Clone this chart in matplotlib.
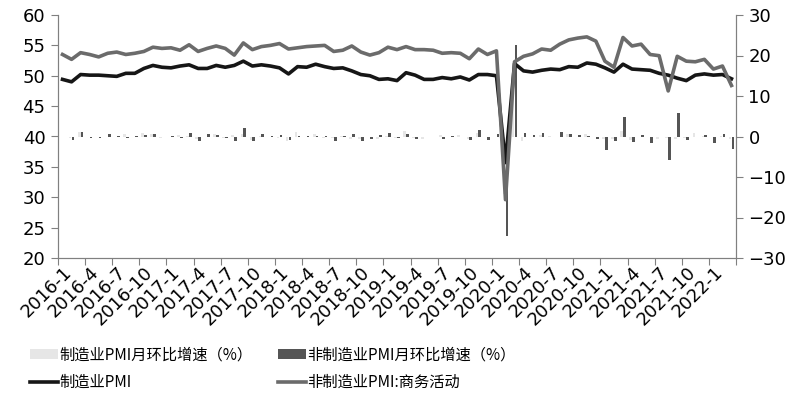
import matplotlib
matplotlib.use("Agg")
import matplotlib.pyplot as plt
import numpy as np

plt.rcParams['font.family'] = ['Noto Sans CJK SC', 'DejaVu Sans']
plt.rcParams['axes.unicode_minus'] = True

# monthly data 2016-1 .. 2022-3
months = ["%d-%d" % (y, m) for y in range(2016, 2023) for m in range(1, 13)][:75]

mfg_pmi = [49.4, 49.0, 50.2, 50.1, 50.1, 50.0, 49.9, 50.4, 50.4, 51.2, 51.7, 51.4,
           51.3, 51.6, 51.8, 51.2, 51.2, 51.7, 51.4, 51.7, 52.4, 51.6, 51.8, 51.6,
           51.3, 50.3, 51.5, 51.4, 51.9, 51.5, 51.2, 51.3, 50.8, 50.2, 50.0, 49.4,
           49.5, 49.2, 50.5, 50.1, 49.4, 49.4, 49.7, 49.5, 49.8, 49.3, 50.2, 50.2,
           50.0, 35.7, 52.0, 50.8, 50.6, 50.9, 51.1, 51.0, 51.5, 51.4, 52.1, 51.9,
           51.3, 50.6, 51.9, 51.1, 51.0, 50.9, 50.4, 50.1, 49.6, 49.2, 50.1, 50.3,
           50.1, 50.2, 49.5]

nonmfg_pmi = [53.5, 52.7, 53.8, 53.5, 53.1, 53.7, 53.9, 53.5, 53.7, 54.0, 54.7, 54.5,
              54.6, 54.2, 55.1, 54.0, 54.5, 54.9, 54.5, 53.4, 55.4, 54.3, 54.8, 55.0,
              55.3, 54.4, 54.6, 54.8, 54.9, 55.0, 54.0, 54.2, 54.9, 53.9, 53.4, 53.8,
              54.7, 54.3, 54.8, 54.3, 54.3, 54.2, 53.7, 53.8, 53.7, 52.8, 54.4, 53.5,
              54.1, 29.6, 52.3, 53.2, 53.6, 54.4, 54.2, 55.2, 55.9, 56.2, 56.4, 55.7,
              52.4, 51.4, 56.3, 54.9, 55.2, 53.5, 53.3, 47.5, 53.2, 52.4, 52.3, 52.7,
              51.1, 51.6, 48.4]

# month-on-month change (right axis)
mfg_mom = [np.nan, -0.4, 1.2, -0.1, 0.0, -0.1, -0.1, 0.5, 0.0, 0.8, 0.5, -0.3,
           -0.1, 0.3, 0.2, -0.6, 0.0, 0.5, -0.3, 0.3, 0.7, -0.8, 0.2, -0.2,
           -0.3, -1.0, 1.2, -0.1, 0.5, -0.4, -0.3, 0.1, -0.5, -0.6, -0.2, -0.6,
           0.1, -0.3, 1.3, -0.4, -0.7, 0.0, 0.3, -0.2, 0.3, -0.5, 0.9, 0.0,
           -0.2, -14.3, 16.3, -1.2, -0.2, 0.3, 0.2, -0.1, 0.5, -0.1, 0.7, -0.2,
           -0.6, -0.7, 1.3, -0.8, -0.1, -0.1, -0.5, -0.3, -0.5, -0.4, 0.9, 0.2,
           -0.2, 0.1, -0.7]

nonmfg_mom = [np.nan, -0.8, 1.1, -0.3, -0.4, 0.6, 0.2, -0.4, 0.2, 0.3, 0.7, -0.2,
              0.1, -0.4, 0.9, -1.1, 0.5, 0.4, -0.4, -1.1, 2.0, -1.1, 0.5, 0.2,
              0.3, -0.9, 0.2, 0.2, 0.1, 0.1, -1.0, 0.2, 0.7, -1.0, -0.5, 0.4,
              0.9, -0.4, 0.5, -0.5, 0.0, -0.1, -0.5, 0.1, -0.1, -0.9, 1.6, -0.9,
              0.6, -24.5, 22.7, 0.9, 0.4, 0.8, -0.2, 1.0, 0.7, 0.3, 0.2, -0.7,
              -3.3, -1.0, 4.9, -1.4, 0.3, -1.7, -0.2, -5.8, 5.7, -0.8, -0.1, 0.4,
              -1.6, 0.5, -3.2]

x = np.arange(len(months))

fig = plt.figure(figsize=(7.91, 3.99), dpi=100)
ax = fig.add_axes([58/791, 1-258/399, (736-58)/791, (258-15)/399])
ax2 = ax.twinx()

w = 0.3
b1 = ax2.bar(x - 0.16, mfg_mom, width=w, color='#e6e6e6')
b2 = ax2.bar(x + 0.16, nonmfg_mom, width=w, color='#555555')

l1, = ax.plot(x, mfg_pmi, color='#161616', lw=2.6)
l2, = ax.plot(x, nonmfg_pmi, color='#6b6b6b', lw=2.6)

ax.set_zorder(ax2.get_zorder() + 1)
ax.patch.set_visible(False)

ax.set_xlim(-0.5, len(months) - 0.5)
ax.set_ylim(20, 60)
ax2.set_ylim(-30, 30)
ax.set_yticks(range(20, 61, 5))
ax2.set_yticks(range(-30, 31, 10))

ax.set_xticks(np.arange(-0.5, len(months), 3))
ax.set_xticklabels([])
ax.set_xticks(x[::3], minor=True)
ax.set_xticklabels(months[::3], minor=True, rotation=45, ha='right', va='top',
                   rotation_mode='anchor', fontsize=13, family='DejaVu Sans')
ax.tick_params(axis='x', which='minor', length=0, pad=4)
ax.tick_params(axis='x', which='major', length=5, color='#808080')
ax.tick_params(axis='y', length=5, color='#808080', labelsize=13, pad=4)
ax2.tick_params(axis='y', length=5, color='#808080', labelsize=13, pad=4)
for lab in ax.get_yticklabels() + ax2.get_yticklabels():
    lab.set_family('DejaVu Sans')

for a in (ax, ax2):
    a.spines['top'].set_visible(False)
    for s in ('left', 'right', 'bottom'):
        a.spines[s].set_color('#808080')

fig.legend([b1, l1, b2, l2],
           ['制造业PMI月环比增速（%）', '制造业PMI', '非制造业PMI月环比增速（%）', '非制造业PMI:商务活动'],
           ncol=2, loc='upper left', bbox_to_anchor=(30/791, 0.132), frameon=False,
           fontsize=11, handlelength=1.8, handleheight=0.6, handletextpad=0.1,
           columnspacing=1.7, borderpad=0, borderaxespad=0, labelspacing=0.7)

fig.savefig('out.png', dpi=100)
